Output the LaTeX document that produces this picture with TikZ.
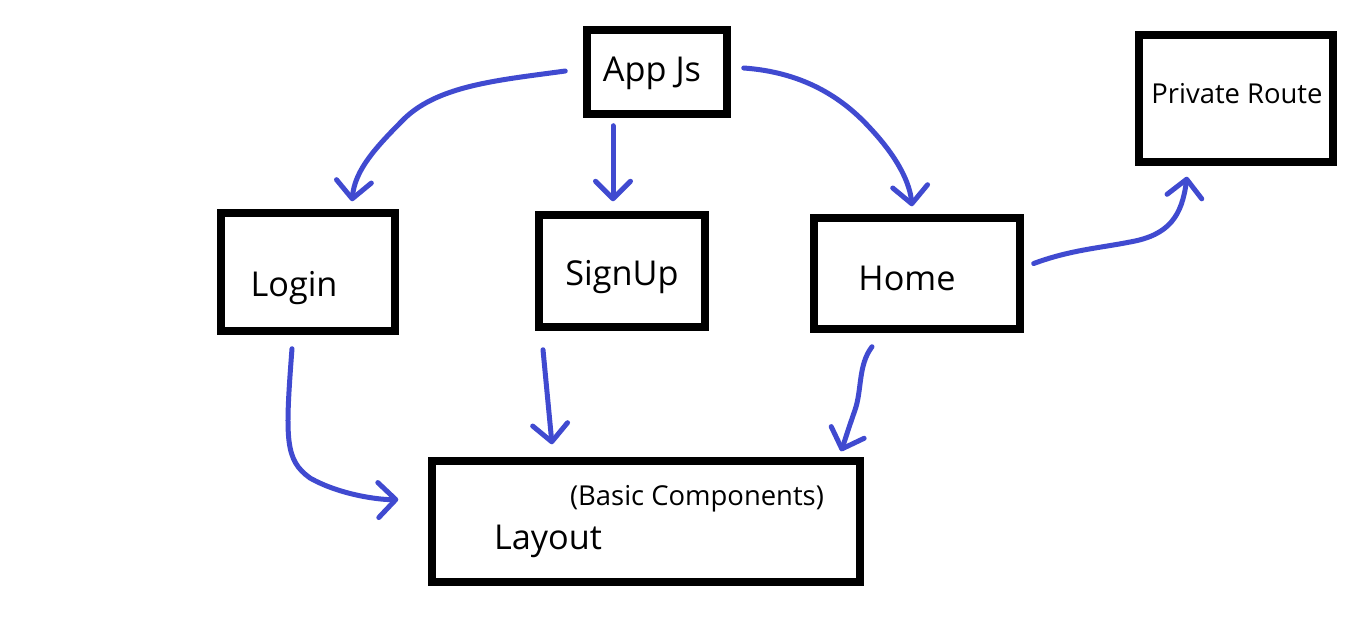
\documentclass[tikz,border=0pt]{standalone}
\usepackage{fontspec}
\setmainfont{Open Sans}
\usetikzlibrary{arrows.meta,calc}
\definecolor{flowblue}{RGB}{64,74,208}
\tikzset{
  box/.style={draw=black, line width=0.15cm, inner sep=0pt},
  lbl/.style={font=\fontsize{19.5}{22}\selectfont, inner sep=0pt},
  small/.style={font=\fontsize{15.6}{18}\selectfont, inner sep=0pt},
  flow/.style={draw=flowblue, line width=0.1cm, line cap=round, line join=round,
    -{Straight Barb[length=3.5mm,width=7mm,round]}}
}
\begin{document}
\begin{tikzpicture}[x=0.02cm, y=-0.02cm]
  \useasboundingbox (0,0) rectangle (1350,629);
  % boxes
  \node[box, minimum width=2.8cm, minimum height=1.68cm] (app) at (657,72) {};
  \node[box, minimum width=3.88cm, minimum height=2.54cm] (private) at (1236,98.5) {};
  \node[box, minimum width=3.48cm, minimum height=2.36cm] (login) at (308,272) {};
  \node[box, minimum width=3.32cm, minimum height=2.24cm] (signup) at (622,271) {};
  \node[box, minimum width=4.12cm, minimum height=2.22cm] (home) at (917,273.5) {};
  \node[box, minimum width=8.56cm, minimum height=2.42cm] (layout) at (646,521.5) {};
  % texts
  \node[lbl] (app-t) at (652,73) {App Js};
  \node[small] (private-t) at (1237,94) {Private Route};
  \node[lbl] (login-t) at (294,288) {Login};
  \node[lbl] (signup-t) at (622,277) {SignUp};
  \node[lbl] (home-t) at (907,278) {Home};
  \node[small] (layout-s) at (697,499) {(Basic Components)};
  \node[lbl] (layout-t) at (548,541) {Layout};
  % arrows from App Js
  \draw[flow] ($(app.west)+(-18,-1)$) .. controls (500,80) and (440,85) .. (405,118)
    .. controls (375,148) and (355,170) .. ($(login.north)+(44,-8)$);
  \draw[flow] ($(app.south)+(-44,8)$) -- ($(signup.north)+(-9,-10)$);
  \draw[flow] ($(app.east)+(13,-4)$) .. controls (800,72) and (840,95) .. (870,128)
    .. controls (900,160) and (910,185) .. ($(home.north)+(-5,-8)$);
  % home to private route
  \draw[flow] ($(home.east)+(10,-10)$) .. controls (1070,250) and (1100,248) .. (1130,242)
    .. controls (1170,235) and (1182,215) .. ($(private.south)+(-49,11)$);
  % down to layout
  \draw[flow] ($(login.south)+(-16,14)$) .. controls (285,440) and (285,460) .. (310,478)
    .. controls (340,495) and (380,500) .. ($(layout.west)+(-30,-22)$);
  \draw[flow] ($(signup.south)+(-79,19)$) -- ($(layout.north)+(-94,-13)$);
  \draw[flow] ($(home.south)+(-45,14)$) .. controls (858,365) and (862,390) .. (855,410)
    .. controls (848,430) and (845,440) .. ($(layout.north)+(195,-6)$);
\end{tikzpicture}
\end{document}
